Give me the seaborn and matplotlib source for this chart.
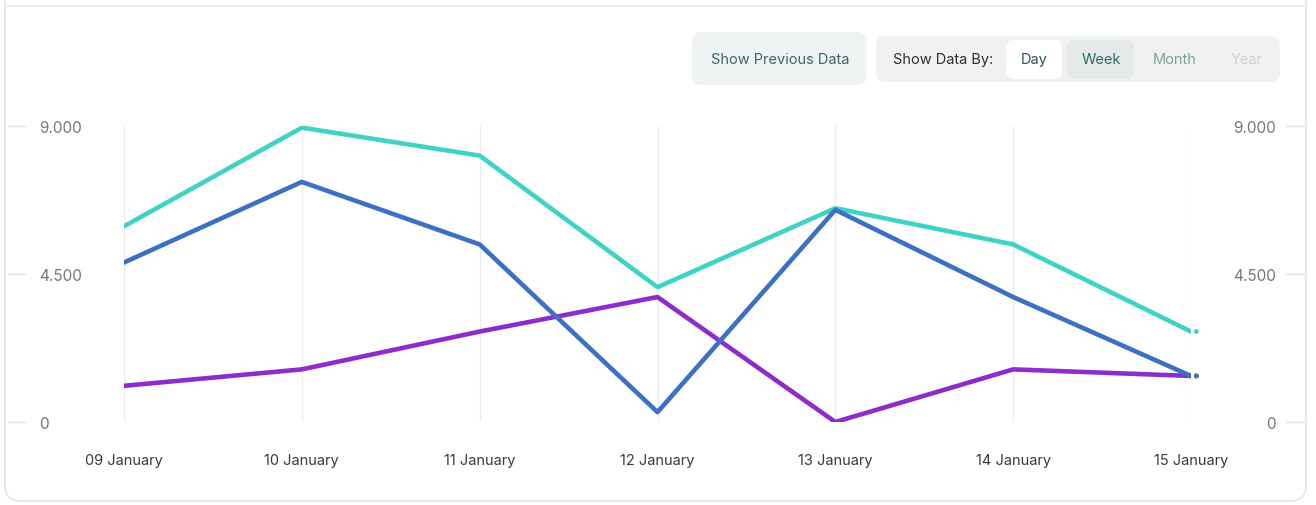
import matplotlib.pyplot as plt
import matplotlib.ticker as mticker
from matplotlib.patches import FancyBboxPatch
from matplotlib.transforms import blended_transform_factory
import pandas as pd
import seaborn as sns

# data
dates = ["09 January", "10 January", "11 January", "12 January",
         "13 January", "14 January", "15 January"]
teal_vals = [5950, 8950, 8100, 4100, 6500, 5400, 2750]
blue_vals = [4850, 7300, 5400, 300, 6450, 3800, 1400]
purple_vals = [1100, 1600, 2750, 3800, 0, 1600, 1400]
series_names = ["Series A", "Series C", "Series B"]   # drawing order: teal, purple, blue
y_ticks = [0, 4500, 9000]

COLORS = {"Series A": "#3fd3c4", "Series B": "#3b70c4", "Series C": "#8c2ccb"}

W, H = 1316, 506

sns.set_theme(style="white")
plt.rcParams["font.family"] = ["Inter", "DejaVu Sans"]

df = pd.DataFrame({
    "date": dates * 3,
    "pos": list(range(len(dates))) * 3,
    "value": teal_vals + purple_vals + blue_vals,
    "series": [series_names[0]] * 7 + [series_names[1]] * 7 + [series_names[2]] * 7,
})

fig = plt.figure(figsize=(W / 100, H / 100), dpi=100)
fig.patch.set_facecolor("white")

# background layer in pixel units for the card and buttons
bg = fig.add_axes([0, 0, 1, 1], zorder=0)
bg.set_xlim(0, W)
bg.set_ylim(H, 0)
bg.axis("off")


def rbox(x0, y0, x1, y1, fc, ec="none", r=8, lw=1.0):
    bg.add_patch(FancyBboxPatch((x0 + r, y0 + r), x1 - x0 - 2 * r, y1 - y0 - 2 * r,
                                boxstyle=f"round,pad={r}", fc=fc, ec=ec, lw=lw))


rbox(5, -40, 1306, 502, "white", ec="#e4e4e4", r=16, lw=1.2)
bg.plot([5, 1306], [7, 7], color="#ededed", lw=1.5)

rbox(692, 33, 867, 86, "#f0f3f3", r=10)
bg.text(780, 60, "Show Previous Data", ha="center", va="center", fontsize=10.5, color="#3f6467")
rbox(876, 37, 1280, 83, "#f1f1f1", r=10)
bg.text(943, 60, "Show Data By:", ha="center", va="center", fontsize=10.5, color="#2f2f2f")
rbox(1006, 41, 1062, 80, "white", r=8)
bg.text(1034, 60, "Day", ha="center", va="center", fontsize=10.5, color="#2d5558")
rbox(1067, 41, 1134, 80, "#e4eaea", r=8)
bg.text(1101, 60, "Week", ha="center", va="center", fontsize=10.5, color="#2e6a5c")
bg.text(1175, 60, "Month", ha="center", va="center", fontsize=10.5, color="#79a49a")
bg.text(1247, 60, "Year", ha="center", va="center", fontsize=10.5, color="#cbd3d1")

# main chart
ax = fig.add_axes([124 / W, 1 - 423 / H, (1191 - 124) / W, (423 - 127) / H], zorder=1)
ax.patch.set_alpha(0)
sns.lineplot(data=df, x="pos", y="value", hue="series", hue_order=series_names,
             palette=COLORS, linewidth=3.3, legend=False, ax=ax, solid_capstyle="round")
last = df[df["pos"] == len(dates) - 1]
ax.scatter(last["pos"] + 0.03, last["value"], s=6,
           c=[COLORS[s] for s in last["series"]], zorder=5, clip_on=False)

ax.set_xlim(0, len(dates) - 1)
ax.set_ylim(0, 9000)
for s in ax.spines.values():
    s.set_visible(False)
ax.set_xlabel("")
ax.set_ylabel("")

ax.set_xticks(range(len(dates)))
ax.set_xticklabels(dates)
ax.grid(axis="x", color="#ececec", lw=1)
ax.grid(axis="y", visible=False)
ax.tick_params(axis="x", length=0, pad=22, labelsize=10.5, labelcolor="#3a3a3a")

ax.set_yticks(y_ticks)
ax.yaxis.set_major_formatter(mticker.FuncFormatter(lambda v, _: f"{int(v):,}".replace(",", ".")))
ax.tick_params(axis="y", length=0, pad=61, labelsize=11, labelcolor="#777777",
               labelleft=True, labelright=True)
for lab in ax.get_yticklabels():
    lab.set_ha("left")
for t in ax.yaxis.get_major_ticks():
    t.label2.set_ha("right")

# short tick dashes at the card edges
tr = blended_transform_factory(ax.transAxes, ax.transData)
span = 1191 - 124
for yv in y_ticks:
    ax.plot([(8 - 124) / span, (26 - 124) / span], [yv, yv], color="#e2e2e2", lw=1,
            transform=tr, clip_on=False)
    ax.plot([(1286 - 124) / span, (1305 - 124) / span], [yv, yv], color="#e2e2e2", lw=1,
            transform=tr, clip_on=False)

fig.savefig("out.png", dpi=100)
